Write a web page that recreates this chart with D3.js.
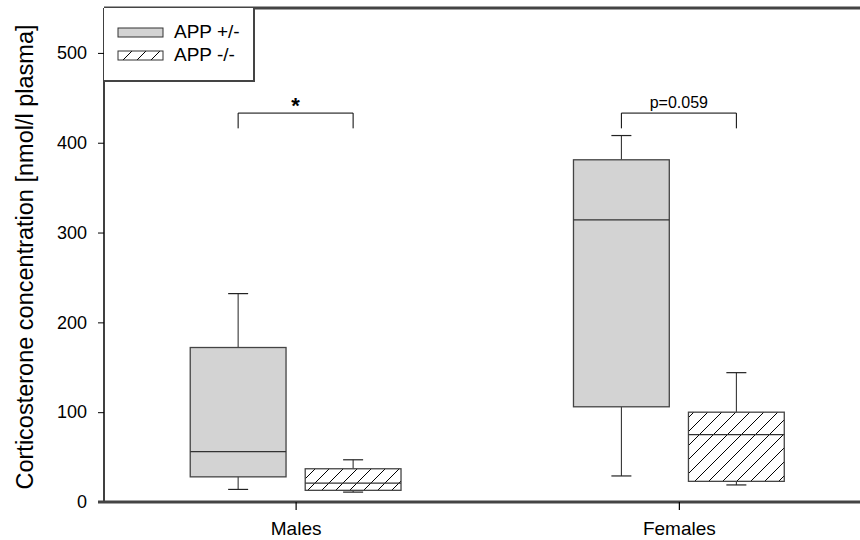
<!DOCTYPE html>
<html>
<head>
<meta charset="utf-8">
<script src="https://cdn.jsdelivr.net/npm/d3@7"></script>
<style>
	body { margin: 0; background: #fff; }
	svg { display: block; font-family: 'Liberation Sans', Arial, sans-serif; }
</style>
</head>
<body>
<div id="chart"></div>
<script>
// box plot of corticosterone levels, two genotypes per sex
const groups = ['Males', 'Females'];
const seriesNames = ['APP +/-', 'APP -/-'];
// [whiskerLow, q1, median, q3, whiskerHigh] per group, one array per series
const appHet = [[14, 28, 56, 172, 232], [29, 106, 314, 381, 408]];
const appKo = [[11, 13, 21, 37, 47], [19, 23, 75, 100, 144]];
const yTicks = [0, 100, 200, 300, 400, 500];
// significance brackets: label, top value, leg end value
const bracketLabels = ['*', 'p=0.059'];
const bracketTop = [433, 433];
const bracketLeg = [416, 416];

const WIDTH = 860;
const HEIGHT = 540;

const svg = d3.select('#chart')
	.append('svg')
	.attr('width', WIDTH)
	.attr('height', HEIGHT);

const x = d3.scaleLinear().domain([0.5, 2.47]).range([104, 859]);
const y = d3.scaleLinear().domain([0, 550]).range([502, 8]);

const BOX_W = 0.25;
const OFFSET = 0.15;

const defs = svg.append('defs');
const hatch = defs.append('pattern')
	.attr('id', 'hatch')
	.attr('patternUnits', 'userSpaceOnUse')
	.attr('width', 14)
	.attr('height', 14);
hatch.append('rect').attr('width', 14).attr('height', 14).attr('fill', '#fff');
hatch.append('path')
	.attr('d', 'M0,14 L14,0 M-7,7 L7,-7 M7,21 L21,7')
	.attr('stroke', '#000')
	.attr('stroke-width', 1);

const series = [
	{ name: seriesNames[0], stats: appHet, fill: '#d3d3d3', off: -OFFSET },
	{ name: seriesNames[1], stats: appKo, fill: 'url(#hatch)', off: OFFSET }
];

// boxes
series.forEach(s => {
	const g = svg.append('g');
	s.stats.forEach((st, i) => {
		const cx = x(i + 1 + s.off);
		const x0 = x(i + 1 + s.off - BOX_W / 2);
		const x1 = x(i + 1 + s.off + BOX_W / 2);
		const capW = 10;
		// whiskers
		g.append('line')
			.attr('x1', cx).attr('x2', cx)
			.attr('y1', y(st[3])).attr('y2', y(st[4]))
			.attr('stroke', '#222').attr('stroke-width', 1);
		g.append('line')
			.attr('x1', cx).attr('x2', cx)
			.attr('y1', y(st[1])).attr('y2', y(st[0]))
			.attr('stroke', '#222').attr('stroke-width', 1);
		[st[0], st[4]].forEach(v => {
			g.append('line')
				.attr('x1', cx - capW).attr('x2', cx + capW)
				.attr('y1', y(v)).attr('y2', y(v))
				.attr('stroke', '#222').attr('stroke-width', 1.2);
		});
		g.append('rect')
			.attr('x', x0).attr('y', y(st[3]))
			.attr('width', x1 - x0).attr('height', y(st[1]) - y(st[3]))
			.attr('fill', s.fill)
			.attr('stroke', '#444').attr('stroke-width', 1.3);
		g.append('line')
			.attr('x1', x0).attr('x2', x1)
			.attr('y1', y(st[2])).attr('y2', y(st[2]))
			.attr('stroke', '#333').attr('stroke-width', 1.3);
	});
});

// brackets
bracketLabels.forEach((lab, i) => {
	const xa = x(i + 1 - OFFSET);
	const xb = x(i + 1 + OFFSET);
	svg.append('path')
		.attr('d', `M${xa},${y(bracketLeg[i])}V${y(bracketTop[i])}H${xb}V${y(bracketLeg[i])}`)
		.attr('fill', 'none').attr('stroke', '#000').attr('stroke-width', 1);
	svg.append('text')
		.attr('x', (xa + xb) / 2)
		.attr('y', lab === '*' ? y(bracketTop[i]) : y(bracketTop[i]) - 5)
		.attr('text-anchor', 'middle')
		.attr('font-size', lab === '*' ? 22 : 16)
		.attr('font-weight', lab === '*' ? 'bold' : 'normal')
		.text(lab);
});

// y axis
const yAxis = svg.append('g')
	.attr('transform', `translate(${x(0.5)},0)`)
	.call(d3.axisLeft(y).tickValues(yTicks).tickSize(6).tickPadding(11).tickFormat(d3.format('d')));
yAxis.select('.domain').attr('stroke', '#000').attr('stroke-width', 1.5).attr('d', `M0,${y(550)}V${y(0)}`);
yAxis.selectAll('.tick line').attr('stroke', '#000').attr('stroke-width', 1);
yAxis.selectAll('.tick text').attr('font-size', 18).attr('font-family', null).attr('fill', '#000');

// x axis
const xAxis = svg.append('g')
	.attr('transform', `translate(0,${y(0)})`)
	.call(d3.axisBottom(x).tickValues([1, 2]).tickSize(8).tickPadding(12).tickFormat(d => groups[d - 1]));
xAxis.select('.domain').attr('stroke', '#444').attr('stroke-width', 3).attr('d', `M${x(0.5) - 6},0H${WIDTH}`);
xAxis.selectAll('.tick line').attr('stroke', '#000').attr('stroke-width', 1.2);
xAxis.selectAll('.tick text').attr('font-size', 19).attr('font-family', null).attr('fill', '#000');

// top frame line
svg.append('line')
	.attr('x1', x(0.5)).attr('x2', WIDTH)
	.attr('y1', y(550)).attr('y2', y(550))
	.attr('stroke', '#444').attr('stroke-width', 3);

// y title
svg.append('text')
	.attr('transform', `translate(33,${(y(0) + y(550)) / 2 + 2}) rotate(-90)`)
	.attr('text-anchor', 'middle')
	.attr('font-size', 23.5)
	.text('Corticosterone concentration [nmol/l plasma]');

// legend
const lg = svg.append('g').attr('transform', `translate(${x(0.5)},${y(550)})`);
lg.append('rect').attr('width', 150).attr('height', 73).attr('fill', '#fff').attr('stroke', 'none');
lg.append('path').attr('d', 'M150,0V73H0').attr('fill', 'none').attr('stroke', '#444').attr('stroke-width', 2);
series.forEach((s, i) => {
	const row = lg.append('g').attr('transform', `translate(14,${20 + i * 23})`);
	row.append('rect')
		.attr('width', 45).attr('height', 9)
		.attr('fill', s.fill)
		.attr('stroke', '#333').attr('stroke-width', 1);
	row.append('text')
		.attr('x', 56).attr('y', 10)
		.attr('font-size', 19)
		.text(s.name);
});
</script>
</body>
</html>
